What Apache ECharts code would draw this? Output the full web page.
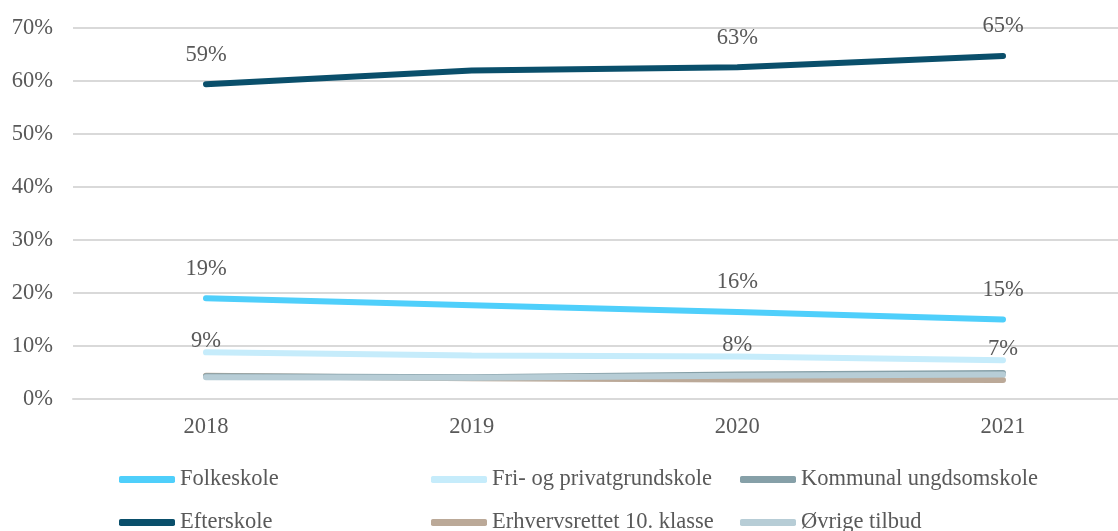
<!DOCTYPE html>
<html><head><meta charset="utf-8">
<script src="https://cdn.jsdelivr.net/npm/echarts@6/dist/echarts.min.js"></script>
<style>html,body{margin:0;padding:0;background:#fff}#c{width:1118px;height:531px}</style>
</head><body><div id="c"></div>
<script>
const categories = ['2018', '2019', '2020', '2021'];
const folkeskole = [19.0, 17.7, 16.4, 15.0];
const friPrivat = [8.8, 8.2, 8.0, 7.3];
const kommunal = [4.3, 4.1, 4.6, 4.9];
const efterskole = [59.4, 62.0, 62.6, 64.7];
const erhverv = [4.4, 3.9, 3.7, 3.6];
const oevrige = [4.1, 4.0, 4.4, 4.6];
const yTicks = [0, 10, 20, 30, 40, 50, 60, 70];
const labelledIdx = [0, 2, 3];

const FONT = 'Liberation Serif';
const TXT = '#595959';
const FS = 22.5;

function mk(name, data, color, labelDist) {
  return {
    name, type: 'line', xAxisIndex: 0, yAxisIndex: 0,
    data: data.map((v, i) => {
      const d = { value: v };
      if (labelDist != null && labelledIdx.includes(i)) d.label = { show: true };
      return d;
    }),
    lineStyle: { color, width: 6, cap: 'round' },
    itemStyle: { color },
    symbol: 'circle', symbolSize: 0.1, showSymbol: true,
    label: {
      show: false, position: 'top', distance: labelDist == null ? 5 : labelDist,
      fontFamily: FONT, fontSize: FS, color: TXT,
      formatter: p => Math.round(p.value) + '%'
    },
    emphasis: { disabled: true },
    animation: false
  };
}

const series = [
  mk('Folkeskole', folkeskole, '#4fcffb', 18),
  mk('Efterskole', efterskole, '#0a4f6b', 18),
  mk('Fri- og privatgrundskole', friPrivat, '#c6ecfb', 0),
  mk('Erhvervsrettet 10. klasse', erhverv, '#bba998'),
  mk('Kommunal ungdsomskole', kommunal, '#86a0a8'),
  mk('Øvrige tilbud', oevrige, '#b7cdd6')
];

const legendCommon = {
  orient: 'vertical', top: 468, height: 90, itemWidth: 56, itemHeight: 7, itemGap: 20,
  icon: 'roundRect', padding: 0,
  textStyle: { fontFamily: FONT, fontSize: FS, color: TXT },
  selectedMode: false
};

const yMin = yTicks[0], yMax = yTicks[yTicks.length - 1];

const chart = echarts.init(document.getElementById('c'), null, { renderer: 'canvas' });
chart.setOption({
  animation: false,
  backgroundColor: '#fff',
  grid: [
    { left: 206, top: 28, width: 797, height: 371 },
    { left: 73, top: 28, right: 0, height: 371 }
  ],
  legend: [
    Object.assign({}, legendCommon, { left: 119, data: ['Folkeskole', 'Efterskole'] }),
    Object.assign({}, legendCommon, { left: 431, data: ['Fri- og privatgrundskole', 'Erhvervsrettet 10. klasse'] }),
    Object.assign({}, legendCommon, { left: 740, data: ['Kommunal ungdsomskole', 'Øvrige tilbud'] })
  ],
  xAxis: [
    {
      gridIndex: 0, type: 'category', data: categories, boundaryGap: false,
      axisLine: { show: false }, axisTick: { show: false }, splitLine: { show: false },
      axisLabel: { fontFamily: FONT, fontSize: FS, color: TXT, margin: 17 }
    },
    {
      gridIndex: 1, type: 'value', min: 0, max: 1,
      axisLine: { show: true, lineStyle: { color: '#d9d9d9', width: 2 } },
      axisTick: { show: false }, axisLabel: { show: false }, splitLine: { show: false }
    }
  ],
  yAxis: [
    {
      gridIndex: 0, type: 'value', min: yMin, max: yMax, interval: 10,
      axisLine: { show: false }, axisTick: { show: false }, axisLabel: { show: false },
      splitLine: { show: false }
    },
    {
      gridIndex: 1, type: 'value', min: yMin, max: yMax, interval: 10,
      axisLine: { show: false }, axisTick: { show: false },
      axisLabel: { fontFamily: FONT, fontSize: FS, color: TXT, margin: 20, formatter: v => v + '%' },
      splitLine: { lineStyle: { color: '#d9d9d9', width: 2 } }
    }
  ],
  series
});
</script></body></html>
